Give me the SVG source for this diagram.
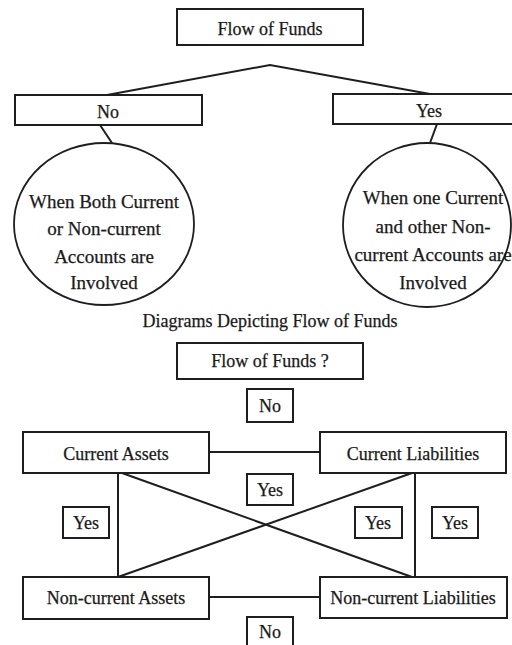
<svg xmlns="http://www.w3.org/2000/svg" width="512" height="645" viewBox="0 0 512 645">
<style>
.box{fill:#fff;stroke:#1e1e1e;stroke-width:2}
.circ{fill:#fff;stroke:#1e1e1e;stroke-width:1.8}
.ln{stroke:#1e1e1e;stroke-width:2;fill:none}
text{font-family:"Liberation Serif","Times New Roman",serif;font-size:18px;fill:#1a1a1a;stroke:#1a1a1a;stroke-width:0.25;text-anchor:middle}
.c{font-size:19px}
</style>
<rect width="512" height="645" fill="#fff"/>
<g id="connectors">
<polyline class="ln" points="107,95 270,65 430,94"/>
<line class="ln" x1="100" y1="125" x2="112" y2="143"/>
<line class="ln" x1="437" y1="124" x2="430" y2="143"/>
<line class="ln" x1="209" y1="452" x2="320" y2="452"/>
<line class="ln" x1="209" y1="597" x2="320" y2="597"/>
<line class="ln" x1="118" y1="473" x2="118" y2="577"/>
<line class="ln" x1="415" y1="473" x2="415" y2="577"/>
<line class="ln" x1="122" y1="473" x2="412" y2="577"/>
<line class="ln" x1="118" y1="577" x2="412" y2="473"/>
</g>
<g id="flow-of-funds">
<rect class="box" x="177" y="9" width="186" height="36"/>
<text x="270" y="35">Flow of Funds</text>
</g>
<g id="no-top">
<rect class="box" x="15" y="95" width="187" height="30"/>
<text x="108" y="118">No</text>
</g>
<g id="yes-top">
<rect class="box" x="333" y="94" width="192" height="30"/>
<text x="429" y="117">Yes</text>
</g>
<g id="circle-left">
<ellipse class="circ" cx="104" cy="224" rx="90" ry="81"/>
<text class="c" x="104" y="208">When Both Current</text>
<text class="c" x="104" y="235">or Non-current</text>
<text class="c" x="104" y="263">Accounts are</text>
<text class="c" x="104" y="289">Involved</text>
</g>
<g id="circle-right">
<ellipse class="circ" cx="427" cy="225" rx="84" ry="82"/>
<text class="c" x="433" y="204">When one Current</text>
<text class="c" x="433" y="233">and other Non-</text>
<text class="c" x="433" y="261">current Accounts are</text>
<text class="c" x="433" y="289">Involved</text>
</g>
<g id="caption">
<text x="270" y="327">Diagrams Depicting Flow of Funds</text>
</g>
<g id="flow-of-funds-q">
<rect class="box" x="177" y="343" width="186" height="36"/>
<text x="270" y="367">Flow of Funds ?</text>
</g>
<g id="no-mid">
<rect class="box" x="247" y="389" width="46" height="33"/>
<text x="270" y="412">No</text>
</g>
<g id="current-assets">
<rect class="box" x="23" y="432" width="186" height="41"/>
<text x="116" y="460">Current Assets</text>
</g>
<g id="current-liabilities">
<rect class="box" x="320" y="432" width="186" height="41"/>
<text x="413" y="460">Current Liabilities</text>
</g>
<g id="yes-center">
<rect class="box" x="247" y="474" width="46" height="31"/>
<text x="270" y="496">Yes</text>
</g>
<g id="yes-left">
<rect class="box" x="63" y="507" width="46" height="31"/>
<text x="86" y="529">Yes</text>
</g>
<g id="yes-right-inner">
<rect class="box" x="355" y="507" width="47" height="31"/>
<text x="378" y="529">Yes</text>
</g>
<g id="yes-right-outer">
<rect class="box" x="432" y="507" width="46" height="31"/>
<text x="455" y="529">Yes</text>
</g>
<g id="noncurrent-assets">
<rect class="box" x="23" y="577" width="186" height="42"/>
<text x="116" y="604">Non-current Assets</text>
</g>
<g id="noncurrent-liabilities">
<rect class="box" x="320" y="577" width="187" height="41"/>
<text x="413" y="604">Non-current Liabilities</text>
</g>
<g id="no-bottom">
<rect class="box" x="247" y="617" width="46" height="40"/>
<text x="270" y="638">No</text>
</g>
</svg>
